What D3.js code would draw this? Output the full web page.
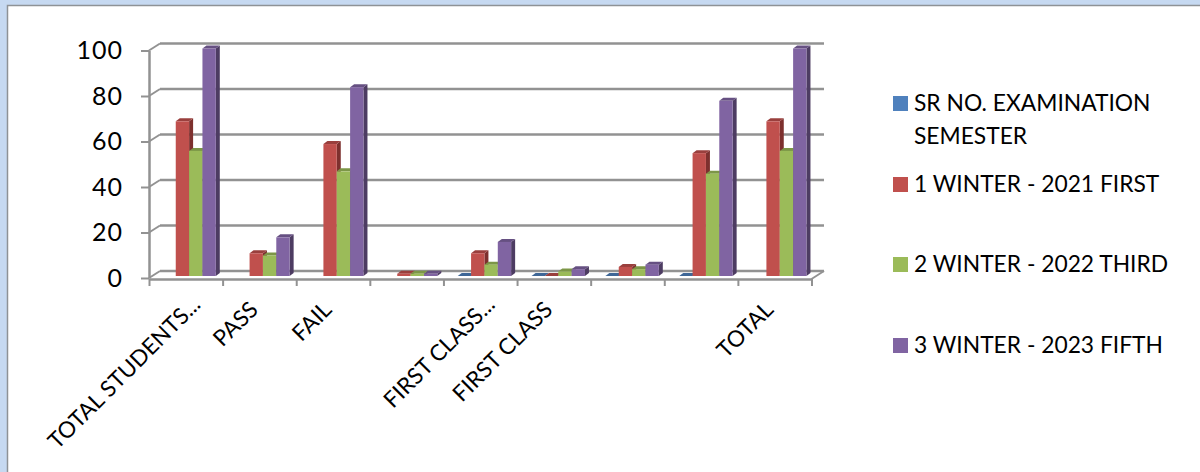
<!DOCTYPE html>
<html>
<head>
<meta charset="utf-8">
<script src="https://cdn.jsdelivr.net/npm/d3@7"></script>
<style>
  html, body { margin: 0; padding: 0; background: #c6d9f1; overflow: hidden; }
  text { font-family: Lato, "Open Sans", sans-serif; fill: #000; }
</style>
</head>
<body>
<div id="vis"></div>
<script>
// values, null = no bar drawn at all
var categories = ["TOTAL STUDENTS...", "PASS", "FAIL", "", "FIRST CLASS...", "FIRST CLASS", "", "", "TOTAL"];
var seriesNames = ["SR NO. EXAMINATION SEMESTER", "1 WINTER - 2021 FIRST", "2 WINTER - 2022 THIRD", "3 WINTER - 2023 FIFTH"];
var srNo = [null, null, null, null, 0, 0, 0, 0, null];
var winter2021 = [68, 10, 58, 1, 10, 0, 4, 54, 68];
var winter2022 = [55, 9, 46, 1, 5, 2, 3, 45, 55];
var winter2023 = [100, 17, 83, 1, 15, 3, 5, 77, 100];
var yTicks = [0, 20, 40, 60, 80, 100];

var allSeries = [srNo, winter2021, winter2022, winter2023];
var faceColors = ["#4f81bd", "#c0504d", "#9bbb59", "#8064a2"];
var topColors = ["#3f6797", "#9a3f3d", "#7c9647", "#665082"];
var sideColors = ["#2f4d71", "#7d302e", "#5d7035", "#4d3c62"];

var width = 1200, height = 472;
var wallDx = 11, wallDxRight = 12.5, wallDy = -7;   // offset of the back wall from the axis
var barDx = 4, barDy = -3;      // depth of the bars
var barLift = 2;                // bars stand a little above the front edge

var svg = d3.select("#vis").append("svg")
    .attr("width", width)
    .attr("height", height)
    .style("display", "block");

// white chart area with its grey frame
svg.append("rect")
    .attr("x", 7.5).attr("y", 5.5)
    .attr("width", width).attr("height", height)
    .attr("fill", "#fff")
    .attr("stroke", "#8e9296")
    .attr("stroke-width", 1.5);

// set the ranges
var y = d3.scaleLinear().domain([0, 100]).range([278, 50.5]);
var x = d3.scaleBand().domain(d3.range(categories.length)).range([149, 811.5]);
var edges = d3.scalePoint().domain(d3.range(categories.length + 1)).range([149, 811.5]);
// the bars sit in the 3d box, so they run a touch wider than the front axis
var xBars = d3.scaleBand().domain(d3.range(categories.length)).range([149, 813.5]);
var xSeries = d3.scaleBand().domain(d3.range(allSeries.length))
    .range([13.4, 66.8]);

var grey = "#929292";

// back wall gridlines
svg.append("g").selectAll("line")
    .data(yTicks)
    .enter().append("line")
    .attr("x1", x.range()[0] + wallDx)
    .attr("x2", x.range()[1] + wallDxRight)
    .attr("y1", function(d) { return y(d) + wallDy; })
    .attr("y2", function(d) { return y(d) + wallDy; })
    .attr("stroke", grey)
    .attr("stroke-width", 2.5);

// the slanted bits joining the wall to the axis
svg.append("g").selectAll("line")
    .data(yTicks)
    .enter().append("line")
    .attr("x1", x.range()[0])
    .attr("x2", x.range()[0] + wallDx)
    .attr("y1", function(d) { return y(d); })
    .attr("y2", function(d) { return y(d) + wallDy; })
    .attr("stroke", grey)
    .attr("stroke-width", 2);

svg.append("line")
    .attr("x1", x.range()[1])
    .attr("x2", x.range()[1] + wallDxRight)
    .attr("y1", y(0) + 1)
    .attr("y2", y(0) + wallDy)
    .attr("stroke", grey)
    .attr("stroke-width", 2);

// y axis
var yAxis = svg.append("g")
    .attr("transform", "translate(" + x.range()[0] + ",0)")
    .call(d3.axisLeft(y).tickValues(yTicks).tickSize(8).tickSizeOuter(0).tickPadding(18));
yAxis.selectAll("text").style("font-size", "25px").style("letter-spacing", "1px");
yAxis.selectAll("line").attr("stroke", grey).attr("stroke-width", 2);
yAxis.select(".domain").attr("stroke", grey).attr("stroke-width", 2.5);

// x axis: ticks on the category edges, labels on the category centres
var xTickAxis = svg.append("g")
    .attr("transform", "translate(0,279)")
    .call(d3.axisBottom(edges).tickSize(7).tickSizeOuter(0).tickFormat(""));
xTickAxis.selectAll("line").attr("stroke", grey).attr("stroke-width", 2);
xTickAxis.select(".domain").attr("stroke", grey).attr("stroke-width", 2.5);

var xAxis = svg.append("g")
    .attr("transform", "translate(0,279)")
    .call(d3.axisBottom(x).tickSize(0).tickFormat(function(i) { return categories[i]; }));
xAxis.select(".domain").remove();
xAxis.selectAll("text")
    .style("font-size", "22.5px")
    .attr("text-anchor", "end")
    .attr("dy", 0)
    .attr("y", 0)
    .attr("transform", function(i) {
        // the shortened labels end further right and higher than the whole ones
        var cut = categories[i].slice(-3) === "...";
        return "translate(" + (cut ? 16 : 0) + "," + (cut ? 27 : 32) + ") rotate(-45)";
    });

// the bars, one group per series slot so later ones sit over the earlier sides
var bars = [];
categories.forEach(function(c, i) {
    allSeries.forEach(function(values, s) {
        if (values[i] !== null) bars.push({cat: i, series: s, value: values[i]});
    });
});

var barGroups = svg.append("g").selectAll("g")
    .data(bars)
    .enter().append("g");

function barBox(d) {
    var left = xBars(d.cat) + xSeries(d.series);
    return {
        left: left,
        right: left + xSeries.bandwidth(),
        top: y(d.value) - barLift,
        bottom: y(0) - barLift
    };
}

barGroups.append("polygon")
    .attr("fill", function(d) { return sideColors[d.series]; })
    .attr("points", function(d) {
        var b = barBox(d);
        return [[b.right, b.bottom], [b.right + barDx, b.bottom + barDy],
                [b.right + barDx, b.top + barDy], [b.right, b.top]].join(" ");
    });

barGroups.append("polygon")
    .attr("fill", function(d) { return topColors[d.series]; })
    .attr("points", function(d) {
        var b = barBox(d);
        return [[b.left, b.top], [b.left + barDx, b.top + barDy],
                [b.right + barDx, b.top + barDy], [b.right, b.top]].join(" ");
    });

barGroups.append("rect")
    .attr("x", function(d) { return barBox(d).left; })
    .attr("y", function(d) { return barBox(d).top; })
    .attr("width", xSeries.bandwidth())
    .attr("height", function(d) { var b = barBox(d); return b.bottom - b.top; })
    .attr("fill", function(d) { return faceColors[d.series]; });

// legend, the first name wraps onto two lines
var legendRows = [
    {lines: [seriesNames[0].replace(" SEMESTER", ""), "SEMESTER"], base: 111},
    {lines: [seriesNames[1]], base: 192},
    {lines: [seriesNames[2]], base: 272},
    {lines: [seriesNames[3]], base: 353}
];

var legend = svg.append("g").selectAll("g")
    .data(legendRows)
    .enter().append("g");

legend.append("rect")
    .attr("x", 893)
    .attr("y", function(d) { return d.base - 15; })
    .attr("width", 15)
    .attr("height", 15)
    .attr("fill", function(d, i) { return faceColors[i]; });

legend.selectAll("text")
    .data(function(d) {
        return d.lines.map(function(t, i) { return {text: t, y: d.base + i * 33}; });
    })
    .enter().append("text")
    .attr("x", 914)
    .attr("y", function(d) { return d.y; })
    .style("font-size", "22.8px")
    .text(function(d) { return d.text; });
</script>
</body>
</html>
